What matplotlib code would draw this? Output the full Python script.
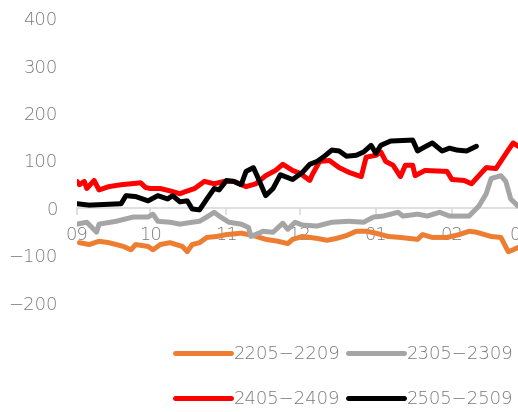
import matplotlib.pyplot as plt

# day offsets from 1 Sep
days_2205 = [1, 5, 9, 13, 19, 22, 24, 29, 31, 34, 38, 43, 45, 47, 50, 53, 57, 61, 67, 72, 77, 82, 86, 88,
             92, 98, 102, 106, 110, 114, 118, 122, 127, 132, 139, 141, 145, 151, 156, 160, 163, 169, 173,
             176, 178, 180]
vals_2205 = [-73, -77, -70, -73, -81, -88, -77, -81, -88, -77, -73, -81, -92, -77, -73, -62, -60, -56, -53,
             -58, -66, -70, -75, -66, -60, -64, -68, -64, -58, -49, -49, -53, -60, -62, -66, -56, -62, -62,
             -56, -49, -51, -60, -62, -92, -88, -83]

days_2305 = [0, 4, 8, 9, 16, 23, 29, 31, 33, 38, 42, 47, 50, 53, 56, 58, 62, 67, 70, 71, 76, 80, 84, 86,
             89, 92, 98, 104, 111, 117, 121, 125, 131, 133, 139, 143, 148, 152, 160, 164, 167, 169, 173,
             175, 177, 180]
vals_2305 = [-34, -30, -51, -34, -28, -19, -19, -13, -28, -30, -34, -30, -28, -19, -9, -17, -30, -34, -41,
             -60, -49, -51, -32, -45, -30, -36, -38, -30, -28, -30, -19, -17, -9, -17, -13, -17, -9, -17,
             -17, 4, 30, 62, 68, 56, 19, 4]

days_2405 = [0, 1, 3, 4, 7, 9, 13, 18, 22, 26, 28, 30, 34, 38, 42, 44, 48, 52, 56, 60, 64, 69, 73, 77,
             81, 84, 88, 91, 95, 96, 99, 103, 107, 111, 116, 118, 122, 124, 126, 129, 132, 134, 137, 138,
             142, 151, 153, 158, 161, 164, 167, 171, 176, 178, 180]
vals_2405 = [56, 49, 56, 41, 58, 38, 45, 49, 51, 53, 43, 41, 41, 36, 30, 34, 41, 56, 51, 56, 56, 45, 51,
             68, 79, 92, 79, 73, 58, 70, 98, 100, 85, 75, 66, 107, 111, 118, 98, 90, 66, 90, 90, 68, 79,
             77, 60, 58, 51, 68, 85, 83, 122, 137, 130]

days_2505 = [0, 5, 18, 20, 24, 29, 33, 37, 39, 42, 45, 47, 50, 53, 56, 58, 61, 64, 67, 69, 72, 74, 77,
             80, 83, 88, 92, 95, 98, 101, 104, 107, 110, 114, 117, 120, 122, 124, 128, 137, 139, 141, 145,
             149, 152, 155, 159, 163]
vals_2505 = [9, 6, 9, 26, 24, 15, 26, 19, 26, 13, 15, -2, -4, 19, 41, 38, 58, 56, 49, 77, 85, 62, 26,
             41, 70, 60, 75, 92, 98, 109, 122, 120, 109, 111, 118, 132, 115, 132, 141, 143, 120, 126, 137,
             120, 126, 122, 120, 130]

month_days = [0, 30, 61, 91, 122, 153, 181]
month_labels = ['09', '10', '11', '12', '01', '02', '03']

plt.rcParams['font.family'] = ['DejaVu Sans']
plt.rcParams['font.weight'] = 'light'

fig = plt.figure(figsize=(5.18, 4.12), dpi=100)
ax = fig.add_axes([0.1486, 0.2646, 0.861, 0.6917])

style = dict(lw=3.6, solid_capstyle='round', solid_joinstyle='round')
l1, = ax.plot(days_2205, vals_2205, color='#ED7D31', label='2205\u22122209', **style)
l2, = ax.plot(days_2305, vals_2305, color='#A5A5A5', label='2305\u22122309', **style)
l3, = ax.plot(days_2405, vals_2405, color='#FF0000', label='2405\u22122409', **style)
l4, = ax.plot(days_2505, vals_2505, color='#000000', label='2505\u22122509', **style)

ax.set_xlim(0, 182)
ax.set_ylim(-200, 400)
ax.set_yticks(range(-200, 401, 100))
ax.set_xticks(month_days)
ax.set_xticklabels(month_labels)

for s in ['top', 'right', 'left']:
    ax.spines[s].set_visible(False)
ax.spines['bottom'].set_position(('data', 0))
ax.spines['bottom'].set_color('#d9d9d9')
ax.spines['bottom'].set_linewidth(1.2)
ax.spines['bottom'].set_zorder(0)

ax.tick_params(axis='y', length=0, pad=14, labelsize=13, labelcolor='#767676')
ax.tick_params(axis='x', length=5, width=1.2, color='#d9d9d9', direction='out', pad=8,
               labelsize=13, labelcolor='#767676')

# legend fills by column, so order gives rows 2205/2305 then 2405/2505
fig.legend([l1, l3, l2, l4], [l.get_label() for l in [l1, l3, l2, l4]],
           loc='center', bbox_to_anchor=(0.665, 0.086), ncol=2, frameon=False,
           fontsize=13, labelcolor='#767676', handlelength=3.1, handletextpad=0.17,
           columnspacing=0.39, labelspacing=1.5)

fig.savefig('out.png', dpi=100)
